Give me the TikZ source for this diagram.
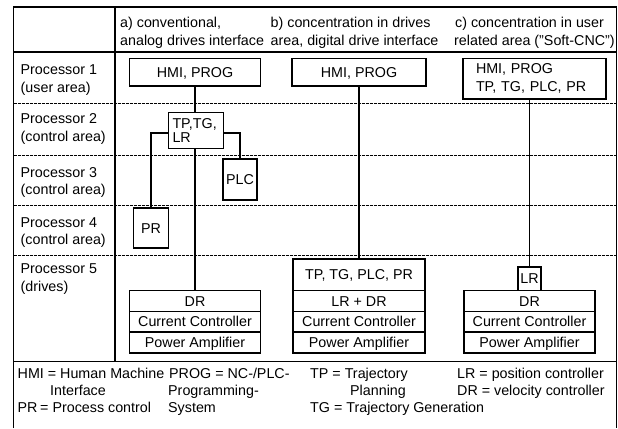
\documentclass[tikz,border=0pt]{standalone}
\usepackage{fontspec}
\setmainfont{Liberation Sans}
\usetikzlibrary{calc}
\newcommand\fs{\fontsize{14.3bp}{17.5bp}\selectfont}
\tikzset{
  txt/.style={inner sep=0, anchor=base west, font=\fs},
  cell/.style={draw, line width=1.1bp, inner sep=0, font=\fs, align=center, text height=10.4bp, text depth=0bp},
  frameline/.style={line width=1.6bp},
  rowsep/.style={line width=1bp, dash pattern=on 3bp off 1bp},
  link/.style={line width=1.5bp},
}
\begin{document}
\begin{tikzpicture}[x=1bp, y=-1bp]
\useasboundingbox (0,0) rectangle (618,428);
% table frame
\draw[frameline] (13.5,428) -- (13.5,7) -- (616.5,7) -- (616.5,428);
\draw[frameline] (13.5,51.7) -- (616.5,51.7);
\draw[frameline] (115,7) -- (115,361.5);
\draw[frameline] (13.5,361.5) -- (616.5,361.5);
\foreach \yy in {103.5,155,205,255}
  \draw[rowsep] (13.5,\yy) -- (616.5,\yy);
% headers
\node[txt] (hA1) at (120,27) {a) conventional,};
\node[txt] (hA2) at (120,45) {analog drives interface};
\node[txt] (hB1) at (270.5,27) {b) concentration in drives};
\node[txt] (hB2) at (270.5,45) {area, digital drive interface};
\node[txt] (hC1) at (455,27) {c) concentration in user};
\node[txt] (hC2) at (454,45) {related area ("Soft-CNC")};
% row labels
\node[txt] (p1a) at (20.5,74) {Processor 1};
\node[txt] (p1b) at (20.5,92) {(user area)};
\node[txt] (p2a) at (20.5,123.5) {Processor 2};
\node[txt] (p2b) at (20.5,141.5) {(control area)};
\node[txt] (p3a) at (20.5,177) {Processor 3};
\node[txt] (p3b) at (20.5,194.5) {(control area)};
\node[txt] (p4a) at (20.5,227) {Processor 4};
\node[txt] (p4b) at (20.5,244.5) {(control area)};
\node[txt] (p5a) at (20.5,273.5) {Processor 5};
\node[txt] (p5b) at (20.5,291) {(drives)};
% column a
\node[cell, minimum width=131bp, minimum height=27.5bp] (hmiA) at (195,72.25) {HMI, PROG};
\node[draw, line width=1.1bp, inner sep=0, minimum width=55bp, minimum height=35.6bp,
      align=left, text width=47bp, font=\fontsize{14.3bp}{14.5bp}\selectfont] (tpA) at (196,130.5) {TP,TG,\\LR};
\node[cell, minimum width=34bp, minimum height=41bp] (plcA) at (240,179.5) {PLC};
\node[cell, minimum width=35bp, minimum height=40bp] (prA) at (151,228) {PR};
\node[cell, minimum width=131bp, minimum height=21bp] (drA) at (195,301) {DR};
\node[cell, minimum width=131bp, minimum height=20.5bp] (ccA) at (195,321.75) {Current Controller};
\node[cell, minimum width=131bp, minimum height=21bp] (paA) at (195,342.5) {Power Amplifier};
% column b
\node[cell, minimum width=134bp, minimum height=27.5bp] (hmiB) at (359,72.25) {HMI, PROG};
\node[cell, minimum width=132bp, minimum height=31.5bp] (tpB) at (359,274.75) {TP, TG, PLC, PR};
\node[cell, minimum width=132bp, minimum height=21bp] (lrdrB) at (359,301) {LR + DR};
\node[cell, minimum width=132bp, minimum height=20.5bp] (ccB) at (359,321.75) {Current Controller};
\node[cell, minimum width=132bp, minimum height=21bp] (paB) at (359,342.5) {Power Amplifier};
% column c
\node[draw, line width=1.1bp, inner sep=0, minimum width=143bp, minimum height=40.5bp,
      align=left, text width=117bp, font=\fontsize{14.3bp}{18bp}\selectfont] (hmiC) at (534.5,78.75) {HMI, PROG\\TP, TG, PLC, PR};
\node[cell, minimum width=23bp, minimum height=23.5bp] (lrC) at (529.5,278.75) {LR};
\node[cell, minimum width=131bp, minimum height=21bp] (drC) at (529.5,301) {DR};
\node[cell, minimum width=131bp, minimum height=20.5bp] (ccC) at (529.5,321.75) {Current Controller};
\node[cell, minimum width=131bp, minimum height=21bp] (paC) at (529.5,342.5) {Power Amplifier};
% connectors
\draw[link] (hmiA.south) -- (tpA.north -| hmiA.south);
\draw[link] (tpA.south -| hmiA.south) -- (drA.north);
\draw[link] ($(tpA.west)+(0,2.5)$) -| (prA.north);
\draw[link] ($(tpA.east)+(0,2.5)$) -| (plcA.north);
\draw[link] (hmiB.south) -- (tpB.north);
\draw[link] (lrC.north |- hmiC.south) -- (lrC.north);
% legend
\node[txt] (l1a) at (17.5,378) {HMI = Human Machine};
\node[txt] (l2a) at (50,395) {Interface};
\node[txt] (l3a) at (17.5,412) {PR};
\node[txt] (l3b) at (40,412) {= Process control};
\node[txt] (l1b) at (169,378) {PROG = NC-/PLC-};
\node[txt] (l2b) at (168,395) {Programming-};
\node[txt] (l3c) at (168,412) {System};
\node[txt] (l1c) at (310,378) {TP = Trajectory};
\node[txt] (l2c) at (350,395) {Planning};
\node[txt] (l3d) at (310,412) {TG = Trajectory Generation};
\node[txt] (l1d) at (457,378) {LR = position controller};
\node[txt] (l2d) at (457,395) {DR = velocity controller};
\end{tikzpicture}
\end{document}
